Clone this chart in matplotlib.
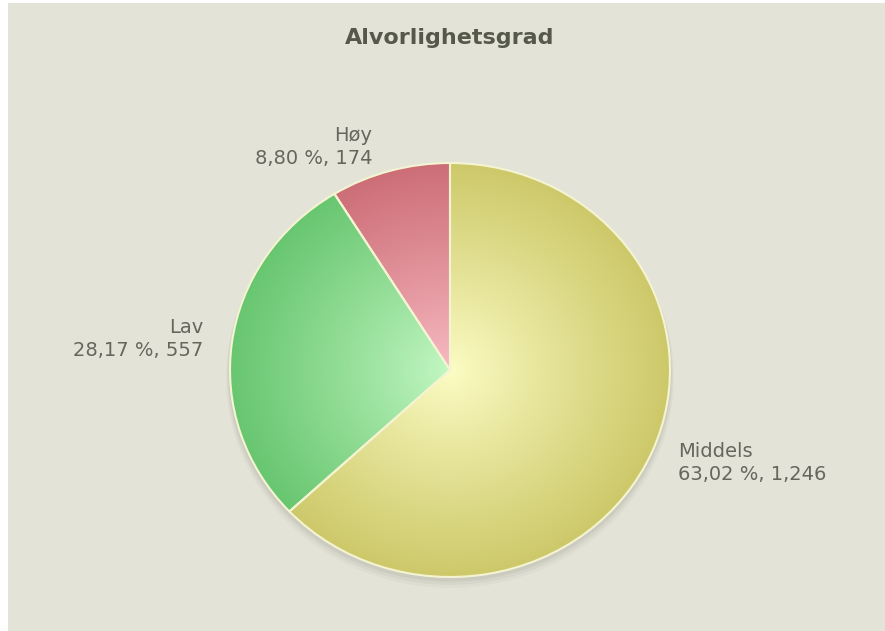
import numpy as np
import matplotlib
matplotlib.use('Agg')
import matplotlib.pyplot as plt
from matplotlib.patches import Ellipse

# Data
categories = ['Middels', 'Lav', 'Høy']
counts = [1246, 557, 174]
center_colors = ['#fdfdc6', '#c4f8c4', '#f9bcc4']
rim_colors = ['#cdc96a', '#68c670', '#cd6e77']

total = sum(counts)
labels = []
for cat, n in zip(categories, counts):
    pct = f'{100 * n / total:.2f}'.replace('.', ',')
    labels.append(f'{cat}\n{pct} %, {n:,}')

W, H = 885, 631
fig = plt.figure(figsize=(W / 100, H / 100), dpi=100, facecolor='white')

# background panel (thin white margin at left / top)
bg = fig.add_axes([8 / W, 0, 1 - 8 / W, 1 - 3 / H])
bg.set_facecolor('#e3e3d8')
bg.set_xticks([])
bg.set_yticks([])
for s in bg.spines.values():
    s.set_visible(False)

fig.text(450 / W, 1 - 38 / H, 'Alvorlighetsgrad', ha='center', va='center',
         fontsize=16, fontweight='bold', color='#56594a')

# pie is slightly elliptical in the reference
cx, cy, rx, ry = 450, 370, 220, 207
ax = fig.add_axes([(cx - rx) / W, (H - cy - ry) / H, 2 * rx / W, 2 * ry / H])
ax.patch.set_visible(False)

# soft drop shadow
for k, a in zip([0.035, 0.025, 0.015], [0.05, 0.07, 0.09]):
    ax.add_patch(Ellipse((0, -k), 2.0 + k, 2.0 + k, facecolor='#707060',
                         edgecolor='none', alpha=a, zorder=0, clip_on=False))

wedges, texts = ax.pie(counts, labels=labels, startangle=90, counterclock=False,
                       radius=1, labeldistance=1.13,
                       textprops=dict(fontsize=14, color='#66665e', linespacing=1.3),
                       wedgeprops=dict(edgecolor='#f4f4d2', linewidth=1.5))

# small nudge so the top label sits like the reference
x, y = texts[2].get_position()
texts[2].set_position((x - 0.045, y - 0.01))

# radial gradient fill, clipped to each wedge
n = 400
xs = np.linspace(-1, 1, n)
X, Y = np.meshgrid(xs, xs)
t = np.clip(np.sqrt(X ** 2 + Y ** 2), 0, 1)[..., None]
for w, c0, c1 in zip(wedges, center_colors, rim_colors):
    a0 = np.array(matplotlib.colors.to_rgb(c0))
    a1 = np.array(matplotlib.colors.to_rgb(c1))
    img = a0 + (a1 - a0) * t ** 0.9
    im = ax.imshow(img, extent=(-1, 1, -1, 1), origin='lower', zorder=1,
                   interpolation='bilinear')
    im.set_clip_path(w)
    w.set_facecolor('none')
    w.set_zorder(2)

ax.set_aspect('auto')
ax.set_xlim(-1, 1)
ax.set_ylim(-1, 1)
ax.axis('off')

fig.savefig('out.png', dpi=100, facecolor=fig.get_facecolor())
